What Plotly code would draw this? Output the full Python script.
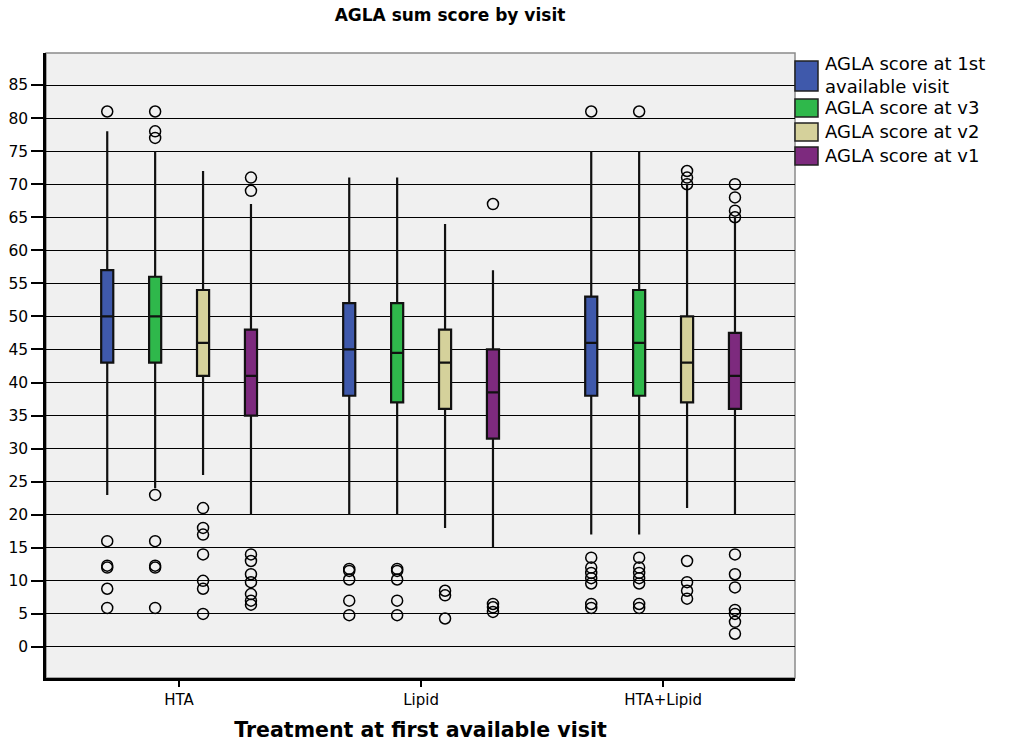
import plotly.graph_objects as go

# ---- data ----
categories = ["HTA", "Lipid", "HTA+Lipid"]
series_names = ["AGLA score at 1st<br>available visit", "AGLA score at v3",
                "AGLA score at v2", "AGLA score at v1"]
colors = ["#3F59AB", "#2FB84B", "#D5D19B", "#7D2A7E"]

# per series: one value per category (HTA, Lipid, HTA+Lipid)
q1_1st = [43, 38, 38]
med_1st = [50, 45, 46]
q3_1st = [57, 52, 53]
lo_1st = [23, 20, 17]
hi_1st = [78, 71, 75]
out_1st = [[81, 16, 12.3, 12, 8.8, 5.9],
           [11.8, 11.5, 10.2, 7, 4.8],
           [81, 13.5, 12, 11.2, 10.4, 9.6, 6.5, 5.9]]

q1_v3 = [43, 37, 38]
med_v3 = [50, 44.5, 46]
q3_v3 = [56, 52, 54]
lo_v3 = [24, 20, 17]
hi_v3 = [75, 71, 75]
out_v3 = [[81, 78, 77, 23, 16, 12.3, 12, 5.9],
          [11.8, 11.5, 10.2, 7, 4.8],
          [81, 13.5, 12, 11.2, 10.4, 9.6, 6.5, 5.9]]

q1_v2 = [41, 36, 37]
med_v2 = [46, 43, 43]
q3_v2 = [54, 48, 50]
lo_v2 = [26, 18, 21]
hi_v2 = [72, 64, 70]
out_v2 = [[21, 18, 17, 14, 10, 8.8, 5],
          [8.5, 7.8, 4.3],
          [72, 71, 70, 13, 9.8, 8.5, 7.3]]

q1_v1 = [35, 31.5, 36]
med_v1 = [41, 38.5, 41]
q3_v1 = [48, 45, 47.5]
lo_v1 = [20, 15, 20]
hi_v1 = [67, 57, 65]
out_v1 = [[71, 69, 14, 13, 11, 9.8, 8, 7, 6.4],
          [67, 6.5, 6, 5.3],
          [70, 68, 66, 65, 14, 11, 9, 5.6, 5, 3.8, 2]]

stats = [
    (q1_1st, med_1st, q3_1st, lo_1st, hi_1st, out_1st),
    (q1_v3, med_v3, q3_v3, lo_v3, hi_v3, out_v3),
    (q1_v2, med_v2, q3_v2, lo_v2, hi_v2, out_v2),
    (q1_v1, med_v1, q3_v1, lo_v1, hi_v1, out_v1),
]

y_ticks = list(range(0, 90, 5))

# ---- figure ----
FONT = "DejaVu Sans, Arial, sans-serif"
W, H = 1017, 746
ML, MR, MT, MB = 46, 222, 53, 68
PW, PH = W - ML - MR, H - MT - MB

n = len(series_names)
slot = 0.198
box_w = 0.05
cat_pos = list(range(len(categories)))

fig = go.Figure()
for i, (name, col, st) in enumerate(zip(series_names, colors, stats)):
    q1, med, q3, lo, hi, outs = st
    off = (i - (n - 1) / 2) * slot
    xs = [c + off for c in cat_pos]
    fig.add_trace(go.Box(
        x=xs, q1=q1, median=med, q3=q3, lowerfence=lo, upperfence=hi,
        name=name.replace("<br>", " "), fillcolor=col, width=box_w, whiskerwidth=0,
        line=dict(color="#111111", width=2.2), boxpoints=False,
        hoverinfo="y", showlegend=False,
    ))
    ox, oy = [], []
    for c, vals in zip(cat_pos, outs):
        for v in vals:
            ox.append(c + off)
            oy.append(v)
    fig.add_trace(go.Scatter(
        x=ox, y=oy, mode="markers", showlegend=False,
        marker=dict(symbol="circle-open", size=11, color="black",
                    line=dict(width=1.5, color="black")),
        hoverinfo="y",
    ))


def px_x(px):
    return (px - ML) / PW


def px_y(py):
    return (H - MB - py) / PH


# legend drawn as a key panel to the right of the plot area
shapes = [dict(type="rect", xref="paper", yref="paper", x0=0, x1=1, y0=0, y1=1,
               line=dict(color="#8a8a8a", width=1.5), layer="below")]
annotations = []
key_rows = [(61, 91), (99, 117), (123, 141), (147, 165)]
for (top, bot), name, col in zip(key_rows, series_names, colors):
    shapes.append(dict(type="rect", xref="paper", yref="paper",
                       x0=px_x(795), x1=px_x(818), y0=px_y(bot), y1=px_y(top),
                       fillcolor=col, line=dict(color="#222222", width=1.5)))
    annotations.append(dict(text=name, xref="paper", yref="paper",
                            x=px_x(823), y=px_y((top + bot) / 2 - 1),
                            xanchor="left", yanchor="middle", align="left",
                            showarrow=False,
                            font=dict(size=18, family=FONT, color="black")))

fig.update_layout(
    width=W, height=H,
    margin=dict(l=ML, r=MR, t=MT, b=MB, autoexpand=False),
    paper_bgcolor="white", plot_bgcolor="#F0F0F0",
    font=dict(family=FONT, color="black", size=15),
    title=dict(text="<b>AGLA sum score by visit</b>", x=450 / W, xanchor="center",
               xref="container", y=1 - 15 / H, yanchor="middle", yref="container",
               font=dict(size=17, family=FONT)),
    showlegend=False,
    shapes=shapes,
    annotations=annotations,
)
fig.update_xaxes(
    range=[-0.55, 2.545], tickmode="array", tickvals=cat_pos, ticktext=categories,
    showgrid=False, zeroline=False, showline=True, linecolor="black", linewidth=2.5,
    ticks="outside", ticklen=6, tickwidth=2, tickcolor="black",
    tickfont=dict(size=15), automargin=False,
    title=dict(text="<b>Treatment at first available visit</b>",
               font=dict(size=20.5)),
)
fig.update_yaxes(
    range=[-4.7, 89.85], tickmode="array", tickvals=y_ticks,
    showgrid=True, gridcolor="black", gridwidth=1.2, zeroline=False,
    showline=True, linecolor="black", linewidth=2.5, automargin=False,
    ticks="outside", ticklen=12, tickwidth=2, tickcolor="black",
    tickfont=dict(size=15.5),
)

fig.write_html("out.html", config={"displayModeBar": False},
               post_script="document.body.style.margin='0';")
